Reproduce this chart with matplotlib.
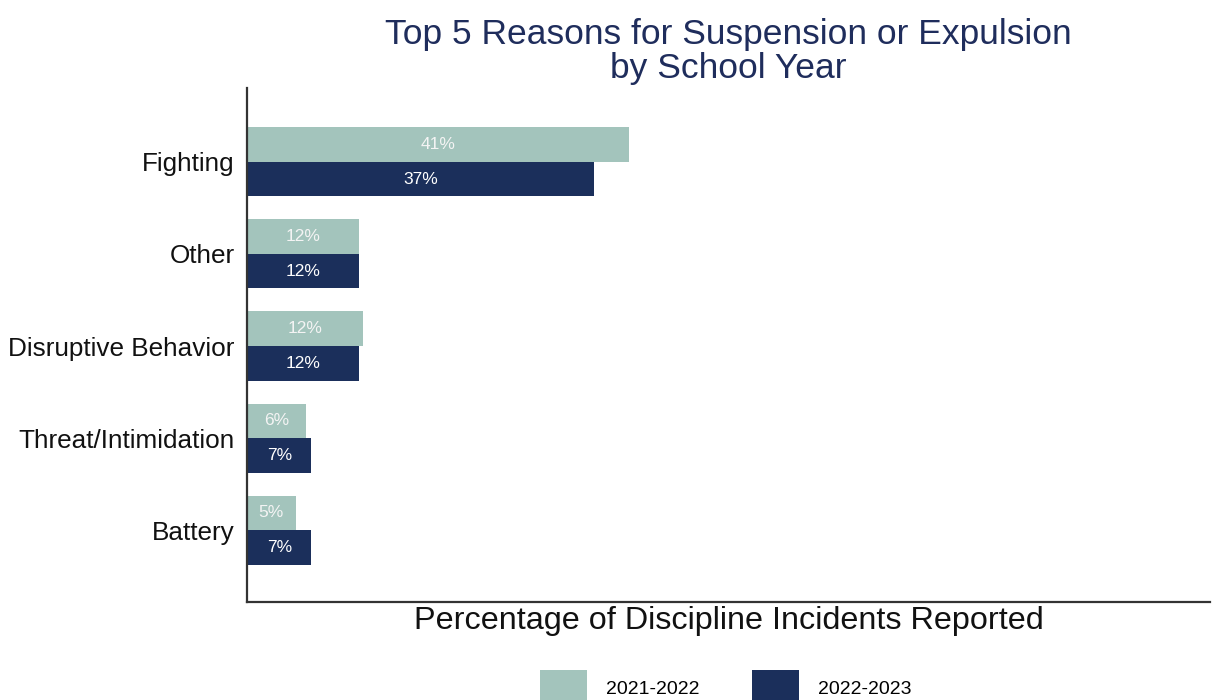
import numpy as np
import matplotlib.pyplot as plt

plt.rcParams['font.family'] = ['Liberation Sans', 'DejaVu Sans']

# data
reasons = ['Fighting', 'Other', 'Disruptive Behavior', 'Threat/Intimidation', 'Battery']
pct_2122 = [41.0, 12.0, 12.4, 6.3, 5.2]
pct_2223 = [37.2, 12.0, 12.0, 6.9, 6.9]
years = ['2021-2022', '2022-2023']

light = '#a3c4bc'
dark = '#1b2f5b'

fig = plt.figure(figsize=(12.14, 7.0), dpi=100)
ax = fig.add_axes([0.2035, 0.14, 0.7932, 0.734])

y = np.arange(len(reasons))
h = 0.375
b1 = ax.barh(y - h / 2, pct_2122, height=h, color=light, label=years[0])
b2 = ax.barh(y + h / 2, pct_2223, height=h, color=dark, label=years[1])

ax.bar_label(b1, labels=[f'{v:.0f}%' for v in pct_2122], label_type='center',
             color='#f4f4f4', fontsize=12.5)
ax.bar_label(b2, labels=[f'{v:.0f}%' for v in pct_2223], label_type='center',
             color='white', fontsize=12.5)

ax.set_xlim(0, 103.3)
ax.set_ylim(4.78, -0.8)
ax.set_yticks(y)
ax.set_yticklabels(reasons, fontsize=18.8, color='#111111')
ax.set_xticks([])
ax.tick_params(axis='y', length=0, pad=9)

for s in ['top', 'right']:
    ax.spines[s].set_visible(False)
for s in ['left', 'bottom']:
    ax.spines[s].set_color('#333333')
    ax.spines[s].set_linewidth(1.6)

ax.set_xlabel('Percentage of Discipline Incidents Reported', fontsize=23.3,
              color='#111111', labelpad=3)
ax.set_title('Top 5 Reasons for Suspension or Expulsion\nby School Year',
             fontsize=25.5, color='#1f2d5c', pad=7, linespacing=1.07)

fig.legend(loc='upper center', bbox_to_anchor=(0.598, 1 - 670 / 700),
           ncol=2, frameon=False, fontsize=14, handlelength=2.4,
           handleheight=2.4, handletextpad=1.0, columnspacing=2.7,
           borderpad=0, borderaxespad=0)

fig.savefig('out.png', dpi=100)
